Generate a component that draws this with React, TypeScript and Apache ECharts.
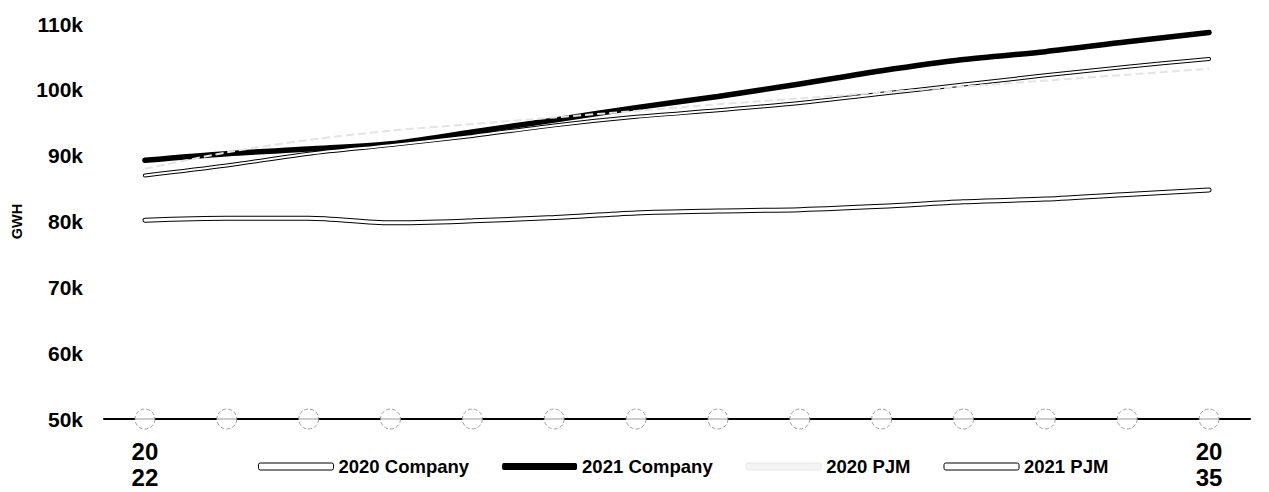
import React, { useEffect, useRef } from "react";
import * as echarts from "echarts";

const years = ["2022","2023","2024","2025","2026","2027","2028","2029","2030","2031","2032","2033","2034","2035"];
const company2020 = [87.0, 88.5, 90.3, 91.6, 93.0, 94.6, 95.9, 96.9, 98.0, 99.4, 100.8, 102.2, 103.5, 104.7].map(v => v * 1000);
const company2021 = [89.3, 90.3, 91.0, 91.8, 93.6, 95.4, 97.3, 99.0, 100.9, 102.9, 104.6, 105.8, 107.3, 108.7].map(v => v * 1000);
const pjm2020 = [88.0, 90.5, 92.4, 93.8, 94.8, 95.8, 96.8, 97.8, 98.7, 99.6, 100.5, 101.4, 102.3, 103.2].map(v => v * 1000);
const pjm2021 = [80.2, 80.5, 80.5, 79.8, 80.1, 80.6, 81.3, 81.6, 81.8, 82.3, 83.0, 83.4, 84.1, 84.8].map(v => v * 1000);
const axisMarkers = [50000, 50000, 50000, 50000, 50000, 50000, 50000, 50000, 50000, 50000, 50000, 50000, 50000, 50000];
const yTicks = { min: 50000, max: 110000, interval: 10000 };

const FONT = "Liberation Sans, Arial, Helvetica, sans-serif";

export default function App() {
  const ref = useRef<HTMLDivElement>(null);
  useEffect(() => {
    if (!ref.current) return;
    const chart = echarts.init(ref.current, null, { renderer: "svg" });
    chart.setOption({
      animation: false,
      backgroundColor: "#fff",
      textStyle: { fontFamily: FONT },
      grid: { left: 104, right: 19, top: 24, bottom: 73, containLabel: false, outerBoundsMode: "none" },
      legend: {
        left: 253,
        top: 452,
        itemWidth: 75,
        itemHeight: 7,
        itemGap: 33,
        textStyle: { fontFamily: FONT, fontWeight: "bold", fontSize: 18.5, color: "#000" },
        data: [
          { name: "2020 Company", icon: "roundRect", itemStyle: { color: "#fff", borderColor: "#000", borderWidth: 1 } },
          { name: "2021 Company", icon: "roundRect", itemStyle: { color: "#000", borderColor: "#000", borderWidth: 0 } },
          { name: "2020 PJM", icon: "roundRect", itemStyle: { color: "#f4f4f4", borderColor: "#e6e6e6", borderWidth: 1 } },
          { name: "2021 PJM", icon: "roundRect", itemStyle: { color: "#fff", borderColor: "#000", borderWidth: 1 } },
        ],
      },
      xAxis: {
        type: "category",
        data: years,
        boundaryGap: true,
        axisLine: { show: true, lineStyle: { color: "#000", width: 2 } },
        axisTick: { show: false },
        splitLine: { show: false },
        axisLabel: {
          interval: 0,
          margin: 19,
          fontFamily: FONT,
          fontWeight: "bold",
          fontSize: 24,
          lineHeight: 26,
          color: "#000",
          formatter: (v: string, i: number) =>
            i === 0 || i === years.length - 1 ? v.slice(0, 2) + "\n" + v.slice(2) : "",
        },
      },
      yAxis: {
        type: "value",
        min: yTicks.min,
        max: yTicks.max,
        interval: yTicks.interval,
        name: "GWH",
        nameLocation: "middle",
        nameGap: 80,
        nameRotate: 90,
        nameTextStyle: { fontFamily: FONT, fontWeight: "bold", fontSize: 14.5, color: "#000" },
        axisLine: { show: false },
        axisTick: { show: false },
        splitLine: { show: false },
        axisLabel: {
          margin: 21,
          fontFamily: FONT,
          fontWeight: "bold",
          fontSize: 21,
          color: "#000",
          formatter: (v: number) => v / 1000 + "k",
        },
      },
      series: [
        {
          name: "2021 PJM", type: "line", data: pjm2021, smooth: 0.3, showSymbol: false,
          lineStyle: { color: "#000", width: 5, cap: "round" }, z: 2,
        },
        {
          name: "2021 PJM", type: "line", data: pjm2021, smooth: 0.3, showSymbol: false,
          lineStyle: { color: "#fff", width: 3, cap: "round" }, z: 3,
        },
        {
          name: "2021 Company", type: "line", data: company2021, smooth: 0.3, showSymbol: false,
          lineStyle: { color: "#000", width: 5.5, cap: "round" }, z: 4,
        },
        {
          name: "2020 Company", type: "line", data: company2020, smooth: 0.3, showSymbol: false,
          lineStyle: { color: "#000", width: 4, cap: "round" }, z: 5,
        },
        {
          name: "2020 Company", type: "line", data: company2020, smooth: 0.3, showSymbol: false,
          lineStyle: { color: "#fff", width: 2, cap: "round" }, z: 6,
        },
        {
          name: "2020 PJM", type: "line", data: pjm2020, smooth: 0.3, showSymbol: false,
          lineStyle: { color: "#e4e4e4", width: 2, type: "dashed" }, z: 7,
        },
        {
          name: "markers", type: "scatter", data: axisMarkers, symbol: "circle", symbolSize: 20, clip: false,
          itemStyle: { color: "#fff", borderColor: "#888", borderWidth: 1, borderType: "dashed" }, z: 8,
          silent: true,
        },
      ],
    });
    return () => chart.dispose();
  }, []);
  return (
    <div
      ref={ref}
      style={{ position: "absolute", left: 0, top: 0, width: 1269, height: 492 }}
    />
  );
}
